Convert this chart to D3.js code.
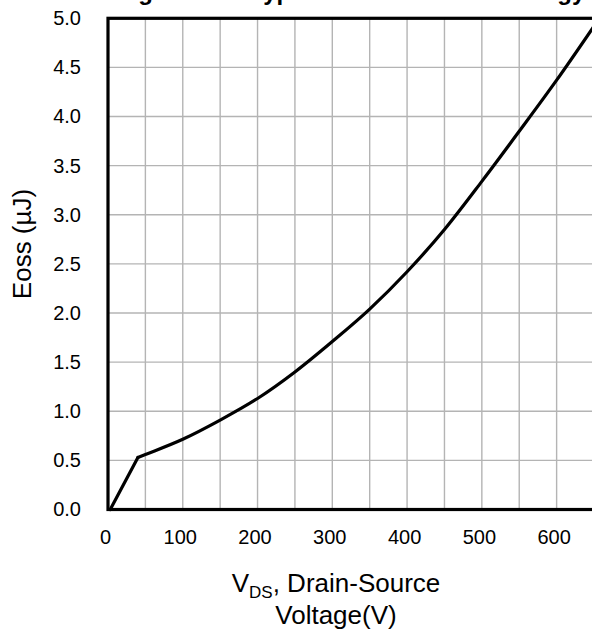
<!DOCTYPE html>
<html>
<head>
<meta charset="utf-8">
<script src="https://cdn.jsdelivr.net/npm/d3@7"></script>
<style>
  html, body { margin: 0; padding: 0; background: #fff; }
  svg { display: block; font-family: "Liberation Sans", Arial, sans-serif; }
</style>
</head>
<body>
<svg id="chart" width="592" height="639"></svg>
<script>
// Typical output-capacitance stored energy vs drain-source voltage
const voltage = [3, 40, 50, 100, 150, 200, 250, 300, 350, 400, 450, 500, 550, 600, 650];
const eoss    = [0, 0.53, 0.56, 0.715, 0.91, 1.13, 1.40, 1.71, 2.04, 2.42, 2.85, 3.34, 3.85, 4.37, 4.92];

const xTicks = [0, 100, 200, 300, 400, 500, 600];
const yTicks = [0, 0.5, 1, 1.5, 2, 2.5, 3, 3.5, 4, 4.5, 5];
const xGrid = d3.range(50, 651, 50);
const yGrid = d3.range(0.5, 5, 0.5);

const titleText = "Figure 12: Typical Coss Stored Energy";
const yTitle = "Eoss (\u00B5J)";

const svg = d3.select("#chart");

const x = d3.scaleLinear().domain([0, 650]).range([108, 594]);
const y = d3.scaleLinear().domain([0, 5]).range([509.5, 18.3]);

// title, sitting above the top edge so only its descenders show
svg.append("text")
  .attr("x", 117).attr("y", -0.5)
  .attr("font-size", 24).attr("font-weight", "bold")
  .attr("word-spacing", 6)
  .text(titleText);

// grid
const grid = svg.append("g").attr("stroke", "#b4b4b4").attr("stroke-width", 1.4);
grid.selectAll("line.v").data(xGrid).join("line")
  .attr("class", "v")
  .attr("x1", d => x(d)).attr("x2", d => x(d))
  .attr("y1", y(5)).attr("y2", y(0));
grid.selectAll("line.h").data(yGrid).join("line")
  .attr("class", "h")
  .attr("x1", x(0)).attr("x2", x(650))
  .attr("y1", d => y(d)).attr("y2", d => y(d));

// curve: straight rise up to the knee, smooth beyond it
const pts = voltage.map((v, i) => [v, eoss[i]]);
const knee = 1;
const rise = d3.line().x(d => x(d[0])).y(d => y(d[1])).curve(d3.curveLinear);
const bend = d3.line().x(d => x(d[0])).y(d => y(d[1])).curve(d3.curveMonotoneX);
const curveG = svg.append("g")
  .attr("fill", "none")
  .attr("stroke", "#000")
  .attr("stroke-width", 3.2)
  .attr("stroke-linejoin", "round")
  .attr("stroke-linecap", "round");
curveG.append("path").datum(pts.slice(0, knee + 1)).attr("d", rise);
curveG.append("path").datum(pts.slice(knee)).attr("d", bend);

// frame
svg.append("rect")
  .attr("x", x(0)).attr("y", y(5))
  .attr("width", x(650) - x(0)).attr("height", y(0) - y(5))
  .attr("fill", "none").attr("stroke", "#000").attr("stroke-width", 3.2);

// axes
const xAxis = svg.append("g")
  .attr("transform", `translate(0,${y(0)})`)
  .call(d3.axisBottom(x).tickValues(xTicks).tickSize(0).tickFormat(d3.format("d")));
xAxis.select(".domain").remove();
xAxis.selectAll("text")
  .attr("y", 34).attr("dy", null).attr("dx", -3)
  .attr("font-size", 20).attr("fill", "#000")
  .attr("font-family", "Liberation Sans, Arial, sans-serif");

const yAxis = svg.append("g")
  .attr("transform", `translate(${x(0)},0)`)
  .call(d3.axisLeft(y).tickValues(yTicks).tickSize(0).tickPadding(27).tickFormat(d3.format(".1f")));
yAxis.select(".domain").remove();
yAxis.selectAll("text")
  .attr("font-size", 20).attr("fill", "#000")
  .attr("font-family", "Liberation Sans, Arial, sans-serif");

// axis titles
svg.append("text")
  .attr("transform", "translate(31,244) rotate(-90)")
  .attr("text-anchor", "middle")
  .attr("font-size", 26)
  .text(yTitle);

const xt = svg.append("text")
  .attr("text-anchor", "middle")
  .attr("font-size", 26);
const l1 = xt.append("tspan").attr("x", 336).attr("y", 592);
l1.append("tspan").text("V");
l1.append("tspan").attr("font-size", 17).attr("dy", 6).text("DS");
l1.append("tspan").attr("dy", -6).text(", Drain-Source");
xt.append("tspan").attr("x", 336).attr("y", 624).text("Voltage(V)");
</script>
</body>
</html>
